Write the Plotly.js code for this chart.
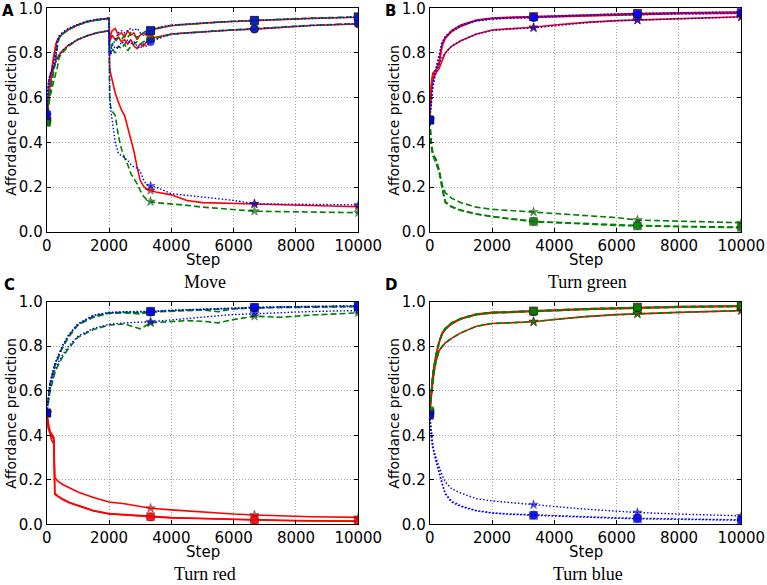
<!DOCTYPE html>
<html><head><meta charset="utf-8">
<script src="https://cdn.plot.ly/plotly-3.0.1.min.js"></script>
<style>html,body{margin:0;padding:0;background:#fff}#chart{width:767px;height:585px}</style>
</head><body><div id="chart"></div>
<script>
// ---------- tick labels ----------
const xTickVals = [0, 2000, 4000, 6000, 8000, 10000];
const xTickLabels = ['0', '2000', '4000', '6000', '8000', '10000'];
const yTickVals = [0, 0.2, 0.4, 0.6, 0.8, 1.0];
const yTickLabels = ['0.0', '0.2', '0.4', '0.6', '0.8', '1.0'];
const markerSteps = [0, 3333, 6667, 10000];
const panelTitles = ['Move', 'Turn green', 'Turn red', 'Turn blue'];
const panelLetters = ['A', 'B', 'C', 'D'];

// ---------- Panel A: Move ----------
const stepsA = [0, 50, 100, 200, 300, 350, 400, 500, 700, 1000, 1300, 1600, 2000, 2020, 2050, 2100, 2200, 2300, 2400, 2500, 2600, 2700, 2800, 2900, 3000, 3100, 3200, 3333, 3500, 4000, 4500, 5000, 5500, 6000, 6667, 7500, 8500, 10000];
const moveRedSquare = [0.50, 0.60, 0.66, 0.76, 0.84, 0.86, 0.87, 0.885, 0.905, 0.925, 0.94, 0.948, 0.955,
  0.86, 0.88, 0.90, 0.91, 0.88, 0.89, 0.87, 0.90, 0.88, 0.89, 0.86, 0.88, 0.89, 0.88, 0.90,
  0.908, 0.922, 0.928, 0.934, 0.938, 0.941, 0.945, 0.95, 0.955, 0.96];
const moveRedCircle = [0.50, 0.60, 0.66, 0.72, 0.77, 0.78, 0.79, 0.81, 0.835, 0.86, 0.877, 0.89, 0.90,
  0.85, 0.86, 0.88, 0.86, 0.87, 0.85, 0.86, 0.84, 0.86, 0.83, 0.82, 0.84, 0.83, 0.85, 0.865,
  0.87, 0.885, 0.89, 0.895, 0.90, 0.903, 0.907, 0.915, 0.923, 0.93];
const moveRedStar = [0.50, 0.60, 0.66, 0.76, 0.84, 0.86, 0.87, 0.885, 0.905, 0.925, 0.94, 0.948, 0.955,
  0.74, 0.71, 0.68, 0.62, 0.58, 0.545, 0.52, 0.47, 0.42, 0.36, 0.29, 0.23, 0.205, 0.19, 0.185,
  0.178, 0.165, 0.14, 0.13, 0.128, 0.126, 0.124, 0.12, 0.116, 0.112];
const moveGreenSquare = [0.49, 0.56, 0.62, 0.70, 0.78, 0.84, 0.87, 0.885, 0.905, 0.925, 0.94, 0.948, 0.955,
  0.80, 0.82, 0.84, 0.85, 0.87, 0.86, 0.88, 0.87, 0.89, 0.88, 0.87, 0.88, 0.89, 0.90, 0.90,
  0.91, 0.924, 0.929, 0.935, 0.939, 0.942, 0.946, 0.951, 0.956, 0.962];
const moveGreenCircle = [0.49, 0.55, 0.60, 0.66, 0.71, 0.74, 0.78, 0.80, 0.83, 0.86, 0.877, 0.89, 0.90,
  0.81, 0.80, 0.82, 0.80, 0.83, 0.82, 0.84, 0.81, 0.83, 0.84, 0.85, 0.84, 0.85, 0.86, 0.86,
  0.865, 0.884, 0.89, 0.895, 0.90, 0.904, 0.908, 0.916, 0.924, 0.932];
const moveGreenStar = [0.49, 0.56, 0.62, 0.70, 0.78, 0.84, 0.87, 0.885, 0.905, 0.925, 0.94, 0.948, 0.955,
  0.60, 0.56, 0.54, 0.52, 0.43, 0.37, 0.33, 0.30, 0.26, 0.24, 0.215, 0.185, 0.16, 0.145, 0.135,
  0.13, 0.125, 0.118, 0.11, 0.104, 0.098, 0.092, 0.09, 0.087, 0.085];
const moveBlueSquare = [0.52, 0.66, 0.70, 0.74, 0.80, 0.86, 0.875, 0.89, 0.91, 0.928, 0.942, 0.95, 0.956,
  0.79, 0.80, 0.83, 0.86, 0.89, 0.90, 0.89, 0.90, 0.91, 0.90, 0.91, 0.89, 0.88, 0.89, 0.90,
  0.912, 0.925, 0.93, 0.935, 0.94, 0.942, 0.946, 0.95, 0.955, 0.961];
const moveBlueCircle = [0.53, 0.66, 0.70, 0.73, 0.76, 0.77, 0.79, 0.81, 0.835, 0.86, 0.877, 0.89, 0.90,
  0.80, 0.79, 0.81, 0.83, 0.82, 0.85, 0.84, 0.86, 0.84, 0.85, 0.83, 0.82, 0.84, 0.83, 0.85,
  0.86, 0.885, 0.89, 0.895, 0.90, 0.903, 0.907, 0.915, 0.923, 0.932];
const moveBlueStar = [0.52, 0.66, 0.70, 0.74, 0.80, 0.86, 0.875, 0.89, 0.91, 0.928, 0.942, 0.95, 0.956,
  0.62, 0.55, 0.50, 0.40, 0.35, 0.34, 0.33, 0.32, 0.30, 0.29, 0.285, 0.27, 0.235, 0.21, 0.205,
  0.20, 0.17, 0.162, 0.155, 0.148, 0.14, 0.125, 0.124, 0.122, 0.12];

// ---------- Panel B: Turn green ----------
const stepsB = [0, 50, 100, 150, 200, 300, 400, 500, 700, 1000, 1500, 2000, 2500, 3333, 4000, 5000, 6000, 6667, 8000, 10000];
const greenRedSquare = [0.50, 0.66, 0.71, 0.72, 0.725, 0.76, 0.84, 0.87, 0.90, 0.925, 0.948, 0.956, 0.96, 0.963, 0.966, 0.971, 0.975, 0.977, 0.98, 0.983];
const greenRedCircle = [0.50, 0.65, 0.70, 0.715, 0.72, 0.75, 0.83, 0.865, 0.895, 0.92, 0.945, 0.953, 0.957, 0.96, 0.963, 0.968, 0.971, 0.973, 0.976, 0.978];
const greenRedStar = [0.50, 0.62, 0.68, 0.70, 0.71, 0.73, 0.77, 0.80, 0.83, 0.855, 0.885, 0.903, 0.908, 0.915, 0.925, 0.937, 0.945, 0.948, 0.954, 0.962];
const greenGreenSquare = [0.50, 0.40, 0.35, 0.33, 0.32, 0.27, 0.19, 0.13, 0.11, 0.095, 0.078, 0.067, 0.058, 0.045, 0.04, 0.034, 0.028, 0.026, 0.022, 0.018];
const greenGreenCircle = [0.50, 0.40, 0.35, 0.335, 0.325, 0.28, 0.20, 0.135, 0.113, 0.097, 0.08, 0.068, 0.06, 0.047, 0.042, 0.036, 0.03, 0.028, 0.024, 0.02];
const greenGreenStar = [0.50, 0.38, 0.34, 0.32, 0.31, 0.27, 0.21, 0.175, 0.15, 0.13, 0.11, 0.10, 0.095, 0.088, 0.08, 0.07, 0.063, 0.052, 0.048, 0.04];
const greenBlueSquare = [0.50, 0.60, 0.66, 0.70, 0.73, 0.79, 0.85, 0.875, 0.90, 0.925, 0.947, 0.955, 0.959, 0.962, 0.966, 0.971, 0.975, 0.977, 0.98, 0.984];
const greenBlueCircle = [0.50, 0.60, 0.655, 0.695, 0.725, 0.78, 0.845, 0.87, 0.895, 0.92, 0.943, 0.951, 0.955, 0.958, 0.962, 0.967, 0.97, 0.972, 0.975, 0.977];
const greenBlueStar = [0.50, 0.58, 0.64, 0.68, 0.71, 0.75, 0.78, 0.80, 0.83, 0.855, 0.884, 0.90, 0.906, 0.912, 0.922, 0.935, 0.944, 0.947, 0.953, 0.961];

// ---------- Panel C: Turn red ----------
const stepsC = [0, 50, 100, 150, 200, 230, 260, 350, 500, 700, 1000, 1500, 2000, 2500, 3000, 3333, 4000, 4500, 5000, 5500, 6000, 6667, 7500, 8500, 10000];
const redRedSquare = [0.50, 0.43, 0.41, 0.40, 0.39, 0.38, 0.14, 0.128, 0.115, 0.10, 0.085, 0.062, 0.048, 0.043, 0.038, 0.034, 0.03, 0.028, 0.026, 0.024, 0.022, 0.02, 0.018, 0.016, 0.015];
const redRedCircle = [0.50, 0.45, 0.42, 0.38, 0.37, 0.36, 0.135, 0.125, 0.112, 0.098, 0.083, 0.06, 0.046, 0.041, 0.037, 0.033, 0.029, 0.027, 0.025, 0.023, 0.021, 0.019, 0.017, 0.015, 0.014];
const redRedStar = [0.50, 0.44, 0.42, 0.41, 0.40, 0.39, 0.21, 0.195, 0.18, 0.165, 0.145, 0.12, 0.10, 0.092, 0.08, 0.072, 0.065, 0.06, 0.055, 0.05, 0.046, 0.042, 0.038, 0.034, 0.031];
const redGreenSquare = [0.50, 0.58, 0.625, 0.655, 0.685, 0.70, 0.715, 0.745, 0.795, 0.845, 0.897, 0.935, 0.95, 0.952, 0.95, 0.955, 0.96, 0.962, 0.964, 0.967, 0.97, 0.974, 0.976, 0.978, 0.98];
const redGreenCircle = [0.50, 0.575, 0.62, 0.65, 0.68, 0.695, 0.71, 0.74, 0.79, 0.84, 0.895, 0.93, 0.948, 0.95, 0.945, 0.953, 0.958, 0.96, 0.963, 0.955, 0.968, 0.972, 0.974, 0.976, 0.978];
const redGreenStar = [0.50, 0.55, 0.59, 0.62, 0.65, 0.66, 0.68, 0.71, 0.75, 0.79, 0.84, 0.875, 0.895, 0.90, 0.878, 0.905, 0.91, 0.915, 0.912, 0.905, 0.92, 0.935, 0.93, 0.94, 0.95];
const redBlueSquare = [0.50, 0.58, 0.63, 0.66, 0.69, 0.70, 0.72, 0.75, 0.80, 0.85, 0.90, 0.94, 0.952, 0.955, 0.955, 0.957, 0.962, 0.965, 0.968, 0.97, 0.973, 0.975, 0.977, 0.979, 0.982];
const redBlueCircle = [0.50, 0.58, 0.63, 0.66, 0.69, 0.70, 0.72, 0.75, 0.80, 0.85, 0.898, 0.937, 0.95, 0.953, 0.953, 0.955, 0.96, 0.963, 0.966, 0.968, 0.971, 0.973, 0.975, 0.977, 0.979];
const redBlueStar = [0.50, 0.56, 0.60, 0.63, 0.66, 0.67, 0.69, 0.72, 0.76, 0.80, 0.845, 0.88, 0.898, 0.905, 0.908, 0.91, 0.918, 0.925, 0.932, 0.937, 0.942, 0.946, 0.951, 0.956, 0.96];

// ---------- Panel D: Turn blue ----------
const stepsD = [0, 50, 100, 150, 200, 300, 400, 500, 700, 1000, 1500, 2000, 2500, 3333, 4000, 5000, 6000, 6667, 8000, 10000];
const blueRedSquare = [0.50, 0.60, 0.67, 0.72, 0.76, 0.82, 0.86, 0.88, 0.905, 0.925, 0.945, 0.952, 0.955, 0.958, 0.962, 0.968, 0.972, 0.975, 0.978, 0.982];
const blueRedCircle = [0.50, 0.60, 0.665, 0.715, 0.755, 0.815, 0.855, 0.875, 0.90, 0.922, 0.942, 0.949, 0.952, 0.955, 0.959, 0.965, 0.969, 0.972, 0.975, 0.979];
const blueRedStar = [0.50, 0.58, 0.64, 0.69, 0.73, 0.78, 0.80, 0.815, 0.835, 0.86, 0.89, 0.902, 0.905, 0.91, 0.92, 0.933, 0.942, 0.946, 0.952, 0.96];
const blueGreenSquare = [0.51, 0.61, 0.675, 0.72, 0.76, 0.82, 0.86, 0.88, 0.905, 0.925, 0.945, 0.952, 0.955, 0.958, 0.962, 0.968, 0.972, 0.975, 0.978, 0.982];
const blueGreenCircle = [0.51, 0.60, 0.67, 0.715, 0.755, 0.815, 0.855, 0.875, 0.90, 0.922, 0.942, 0.949, 0.952, 0.955, 0.959, 0.965, 0.969, 0.972, 0.975, 0.979];
const blueGreenStar = [0.51, 0.58, 0.64, 0.69, 0.73, 0.78, 0.80, 0.815, 0.835, 0.86, 0.89, 0.902, 0.905, 0.91, 0.92, 0.933, 0.942, 0.946, 0.952, 0.96];
const blueBlueSquare = [0.49, 0.40, 0.35, 0.31, 0.28, 0.23, 0.18, 0.135, 0.10, 0.08, 0.06, 0.05, 0.045, 0.04, 0.036, 0.031, 0.027, 0.025, 0.021, 0.018];
const blueBlueCircle = [0.49, 0.41, 0.36, 0.32, 0.29, 0.24, 0.185, 0.14, 0.105, 0.083, 0.062, 0.052, 0.047, 0.042, 0.038, 0.033, 0.029, 0.027, 0.023, 0.02];
const blueBlueStar = [0.49, 0.38, 0.34, 0.32, 0.30, 0.26, 0.22, 0.19, 0.16, 0.14, 0.115, 0.105, 0.098, 0.088, 0.08, 0.068, 0.058, 0.053, 0.046, 0.038];

// ---------- styling ----------
const styleRed = {color: '#ff0000', dash: 'solid', width: 1.6};
const styleGreen = {color: '#008000', dash: '6px,3px', width: 1.6};
const styleBlue = {color: '#0000ff', dash: '1.5px,2px', width: 1.4};
const symSize = {square: 8, circle: 8, star: 7};

const panels = [
  {steps: stepsA, groups: [[styleRed, moveRedSquare, moveRedCircle, moveRedStar], [styleGreen, moveGreenSquare, moveGreenCircle, moveGreenStar], [styleBlue, moveBlueSquare, moveBlueCircle, moveBlueStar]]},
  {steps: stepsB, groups: [[styleRed, greenRedSquare, greenRedCircle, greenRedStar], [styleGreen, greenGreenSquare, greenGreenCircle, greenGreenStar], [styleBlue, greenBlueSquare, greenBlueCircle, greenBlueStar]]},
  {steps: stepsC, groups: [[styleRed, redRedSquare, redRedCircle, redRedStar], [styleGreen, redGreenSquare, redGreenCircle, redGreenStar], [styleBlue, redBlueSquare, redBlueCircle, redBlueStar]]},
  {steps: stepsD, groups: [[styleRed, blueRedSquare, blueRedCircle, blueRedStar], [styleGreen, blueGreenSquare, blueGreenCircle, blueGreenStar], [styleBlue, blueBlueSquare, blueBlueCircle, blueBlueStar]]}
];

// draw order within a colour: star, circle, square (square ends on top)
const drawOrder = [['star', 3], ['circle', 2], ['square', 1]];
const traces = [];
panels.forEach((p, pi) => {
  const xa = 'x' + (pi === 0 ? '' : pi + 1), ya = 'y' + (pi === 0 ? '' : pi + 1);
  const isMark = p.steps.map(s => markerSteps.includes(s));
  p.groups.forEach(g => {
    const st = g[0];
    drawOrder.forEach(([sym, idx]) => {
      traces.push({
        type: 'scatter', mode: 'lines+markers', x: p.steps, y: g[idx], xaxis: xa, yaxis: ya,
        line: {color: st.color, dash: st.dash, width: st.width},
        marker: {symbol: sym, color: st.color, size: isMark.map(m => m ? symSize[sym] : 0),
                 line: {color: '#000', width: isMark.map(m => m ? 0.5 : 0)}},
        cliponaxis: true, hoverinfo: 'skip', showlegend: false
      });
    });
  });
});

const W = 767, H = 585;
const xDomL = [46.7 / W, 358.3 / W], xDomR = [429.7 / W, 741.3 / W];
const yDomT = [(H - 231.7) / H, (H - 8.3) / H], yDomB = [(H - 524.3) / H, (H - 301.7) / H];
const tickFont = {family: 'DejaVu Sans, sans-serif', size: 15, color: '#000'};
function xAxis(dom, anchor) {
  return {domain: dom, anchor: anchor, range: [0, 10000], tickmode: 'array', tickvals: xTickVals, ticktext: xTickLabels,
    ticks: 'inside', ticklen: 4, tickcolor: '#000', showline: true, linecolor: '#000', linewidth: 1, mirror: 'ticks',
    showgrid: true, gridcolor: '#a8a8a8', griddash: '1px,2px', gridwidth: 1, zeroline: false, tickfont: tickFont,
    ticklabelstandoff: 0, ticklabeloverflow: 'allow', fixedrange: true};
}
function yAxis(dom, anchor) {
  return {domain: dom, anchor: anchor, range: [0, 1], tickmode: 'array', tickvals: yTickVals, ticktext: yTickLabels,
    ticks: 'inside', ticklen: 4, tickcolor: '#000', showline: true, linecolor: '#000', linewidth: 1, mirror: 'ticks',
    showgrid: true, gridcolor: '#a8a8a8', griddash: '1px,2px', gridwidth: 1, zeroline: false, tickfont: tickFont,
    ticklabelstandoff: 0, ticklabeloverflow: 'allow', fixedrange: true};
}

const ann = [];
const plotCenters = [[202.5, 120], [585.5, 120], [202.5, 413], [585.5, 413]];
const xAxisBottom = [231.7, 231.7, 524.3, 524.3];
const yAxisLeft = [46.7, 429.7, 46.7, 429.7];
const letterPos = [[8, 11], [391, 11], [9, 285], [391, 285]];
function px(x) { return x / W; }
function py(y) { return 1 - y / H; }
for (let i = 0; i < 4; i++) {
  ann.push({text: 'Step', xref: 'paper', yref: 'paper', x: px(plotCenters[i][0]), y: py(xAxisBottom[i] + 28), xanchor: 'center', yanchor: 'middle', showarrow: false,
    font: {family: 'DejaVu Sans, sans-serif', size: 15, color: '#000'}});
  ann.push({text: 'Affordance prediction', xref: 'paper', yref: 'paper', x: px(yAxisLeft[i] - 36), y: py(plotCenters[i][1]), xanchor: 'center', yanchor: 'middle', textangle: -90, showarrow: false,
    font: {family: 'DejaVu Sans, sans-serif', size: 14, color: '#000'}});
  ann.push({text: panelTitles[i], xref: 'paper', yref: 'paper', x: px(plotCenters[i][0] + 2), y: py(xAxisBottom[i] + 50), xanchor: 'center', yanchor: 'middle', showarrow: false,
    font: {family: 'Liberation Serif, Times New Roman, serif', size: 18, color: '#000'}});
  ann.push({text: '<b>' + panelLetters[i] + '</b>', xref: 'paper', yref: 'paper', x: px(letterPos[i][0]), y: py(letterPos[i][1]), xanchor: 'center', yanchor: 'middle', showarrow: false,
    font: {family: 'DejaVu Sans, sans-serif', size: 15, color: '#000'}});
}

const layout = {
  width: W, height: H, margin: {l: 0, r: 0, t: 0, b: 0}, paper_bgcolor: '#fff', plot_bgcolor: '#fff', showlegend: false,
  xaxis: xAxis(xDomL, 'y'), yaxis: yAxis(yDomT, 'x'),
  xaxis2: xAxis(xDomR, 'y2'), yaxis2: yAxis(yDomT, 'x2'),
  xaxis3: xAxis(xDomL, 'y3'), yaxis3: yAxis(yDomB, 'x3'),
  xaxis4: xAxis(xDomR, 'y4'), yaxis4: yAxis(yDomB, 'x4'),
  annotations: ann
};
Plotly.newPlot('chart', traces, layout, {staticPlot: true, displayModeBar: false});
</script></body></html>
